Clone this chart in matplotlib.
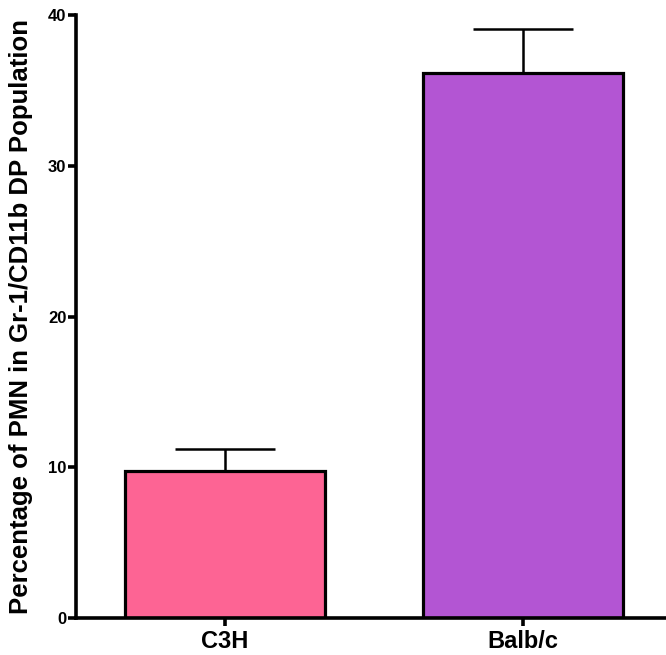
import matplotlib.pyplot as plt

groups = ["C3H", "Balb/c"]
means = [9.75, 36.15]
sem = [1.46, 2.92]
colors = ["#FD6494", "#B355D3"]
yticks = [0, 10, 20, 30, 40]

plt.rcParams['font.family'] = ['Liberation Sans', 'DejaVu Sans']
plt.rcParams['font.weight'] = 'bold'

fig = plt.figure(figsize=(6.66, 6.55), dpi=100)
ax = fig.add_axes([0.1141, 0.0565, 0.886, 0.9205])

x = list(range(len(groups)))
ax.bar(x, means, width=0.668, color=colors, edgecolor="black", linewidth=2.3, zorder=2)
ax.errorbar(x, means, yerr=[[0] * len(sem), sem], fmt="none", ecolor="black",
            elinewidth=1.8, capsize=36, capthick=1.8, zorder=1)

ax.set_xlim(-0.5, 1.48)
ax.set_ylim(0, 40)
ax.set_xticks(x)
ax.set_xticklabels(groups, fontsize=17, fontweight="bold")
ax.set_yticks(yticks)
ax.set_yticklabels([str(t) for t in yticks], fontsize=12, fontweight="bold")
ax.set_ylabel("Percentage of PMN in Gr-1/CD11b DP Population", fontsize=18.5,
              fontweight="bold", labelpad=11)

for s in ["top", "right"]:
    ax.spines[s].set_visible(False)
for s in ["left", "bottom"]:
    ax.spines[s].set_linewidth(2.6)
ax.tick_params(axis="both", width=2.6, length=6, direction="out")
ax.tick_params(axis="y", pad=1)
ax.tick_params(axis="x", pad=3)

fig.savefig("out.png", dpi=100)
